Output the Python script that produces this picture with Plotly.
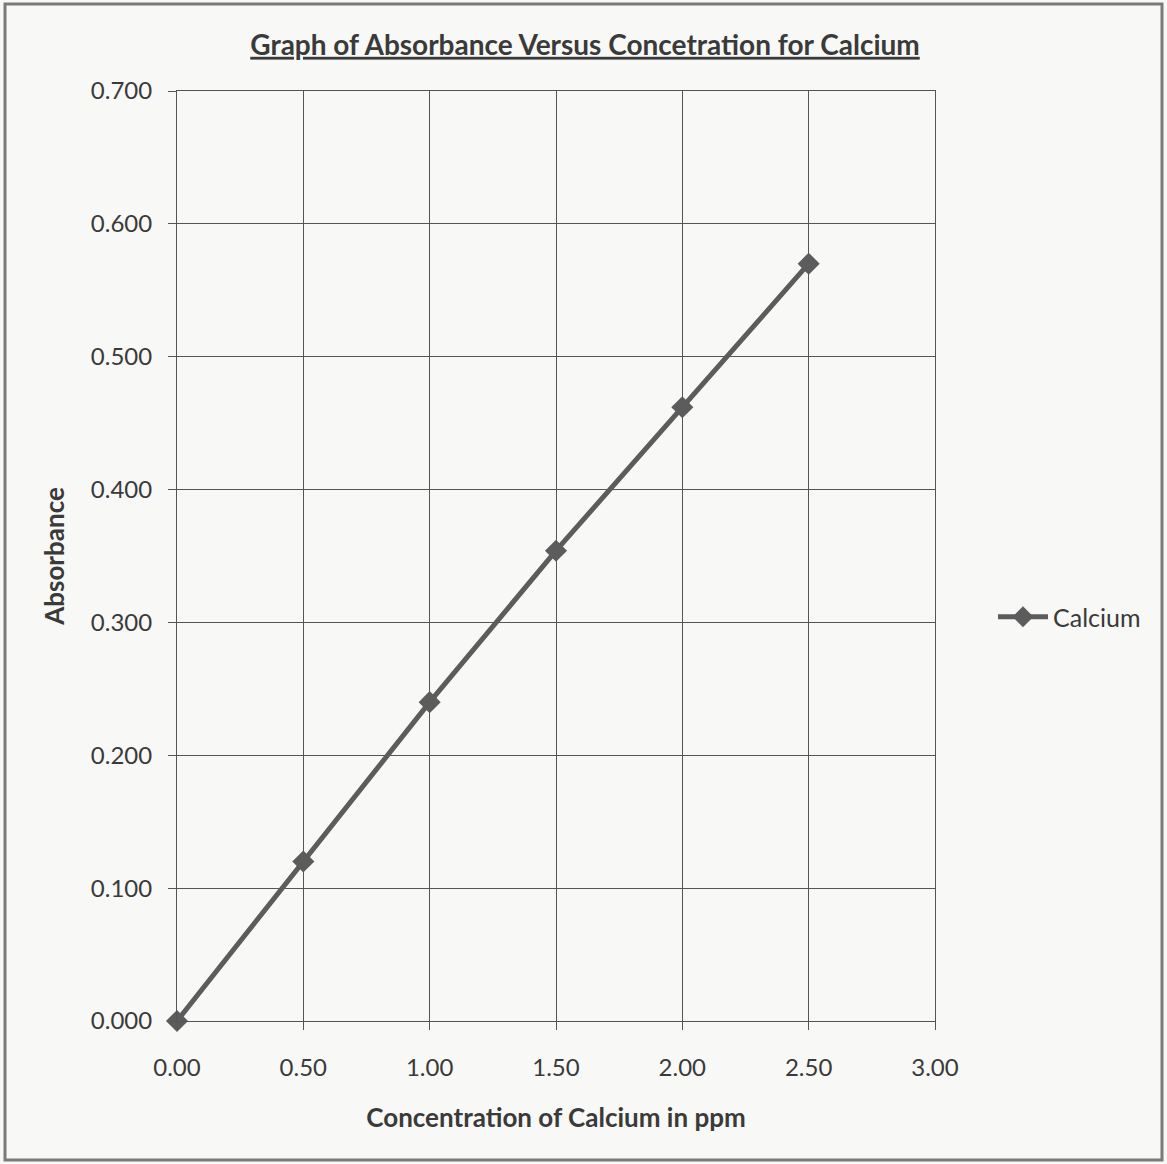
import plotly.graph_objects as go

# Calibration data for calcium
concentration_ppm = [0.00, 0.50, 1.00, 1.50, 2.00, 2.50]
absorbance = [0.000, 0.120, 0.240, 0.354, 0.462, 0.570]
series_name = "Calcium"

x_ticks = [0.0, 0.5, 1.0, 1.5, 2.0, 2.5, 3.0]
x_tick_labels = ["0.00", "0.50", "1.00", "1.50", "2.00", "2.50", "3.00"]
y_ticks = [0.0, 0.1, 0.2, 0.3, 0.4, 0.5, 0.6, 0.7]
y_tick_labels = ["0.000", "0.100", "0.200", "0.300", "0.400", "0.500", "0.600", "0.700"]

FONT = "Lato, 'Open Sans', sans-serif"
INK = "#3a3a3a"
LINE = "#5c5c5c"
GRID = "#555555"

fig = go.Figure()
fig.add_trace(go.Scatter(
    x=concentration_ppm,
    y=absorbance,
    mode="lines+markers",
    name=series_name,
    line=dict(color=LINE, width=5),
    marker=dict(symbol="diamond", size=17, color=LINE),
    cliponaxis=False,
))

fig.update_layout(
    width=1167,
    height=1164,
    margin=dict(l=177, r=232, t=91, b=143),
    paper_bgcolor="#f8f8f6",
    plot_bgcolor="#f8f8f6",
    font=dict(family=FONT, color=INK, size=24),
    title=dict(
        text="<u>Graph of Absorbance Versus Concetration for Calcium</u>",
        x=585 / 1167,
        xanchor="center",
        y=1 - 45 / 1164,
        yanchor="middle",
        font=dict(family=FONT, size=28, color=INK, weight="bold"),
    ),
    showlegend=True,
    legend=dict(
        x=1 + 58 / 758,
        xanchor="left",
        y=1 - (617 - 91) / 930,
        yanchor="middle",
        bgcolor="rgba(0,0,0,0)",
        font=dict(family=FONT, size=25, color=INK),
        itemwidth=50,
    ),
    shapes=[
        dict(
            type="rect", xref="paper", yref="paper",
            x0=-172 / 758, x1=(1162 - 177) / 758,
            y0=-(1160 - 1021) / 930, y1=1 + (91 - 4) / 930,
            line=dict(color="#7a7a7a", width=3),
            fillcolor="rgba(0,0,0,0)",
            layer="below",
        )
    ],
)

fig.update_xaxes(
    range=[0, 3.0],
    tickvals=x_ticks,
    ticktext=x_tick_labels,
    showgrid=True,
    gridcolor=GRID,
    gridwidth=1,
    showline=True,
    linecolor=GRID,
    linewidth=1,
    mirror=True,
    ticks="outside",
    ticklen=8,
    tickcolor=GRID,
    ticklabelstandoff=17,
    tickfont=dict(family=FONT, size=24, color=INK),
    zeroline=False,
    title=dict(
        text="Concentration of Calcium in ppm",
        font=dict(family=FONT, size=26, color=INK, weight="bold"),
        standoff=29,
    ),
)
fig.update_yaxes(
    range=[0, 0.7],
    tickvals=y_ticks,
    ticktext=y_tick_labels,
    showgrid=True,
    gridcolor=GRID,
    gridwidth=1,
    showline=True,
    linecolor=GRID,
    linewidth=1,
    mirror=True,
    ticks="outside",
    ticklen=8,
    tickcolor=GRID,
    ticklabelstandoff=11,
    tickfont=dict(family=FONT, size=24, color=INK),
    zeroline=False,
    title=dict(
        text="Absorbance",
        font=dict(family=FONT, size=26, color=INK, weight="bold"),
        standoff=18,
    ),
)

fig.write_html("out.html")
